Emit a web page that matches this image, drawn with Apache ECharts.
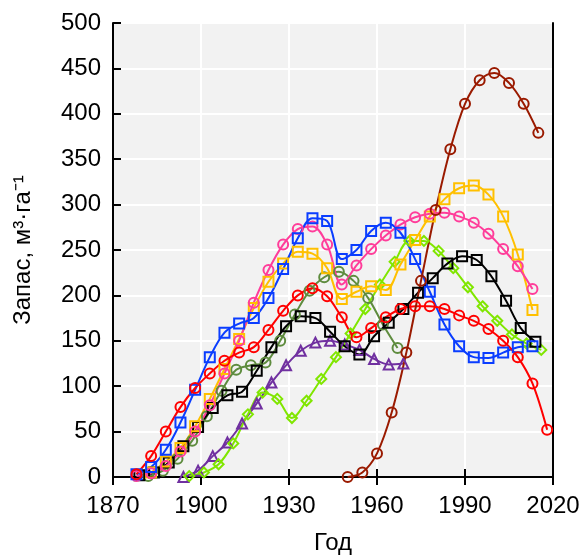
<!DOCTYPE html>
<html>
<head>
<meta charset="utf-8">
<script src="https://cdn.jsdelivr.net/npm/echarts@6/dist/echarts.min.js"></script>
<style>
  html, body { margin: 0; padding: 0; background: #fff; }
  #chart { width: 585px; height: 560px; }
</style>
</head>
<body>
<div id="chart"></div>
<script>
// years and stock values, one pair of arrays per series
var redYears = [1878, 1883, 1888, 1893, 1898, 1903, 1908, 1913, 1918, 1923, 1928, 1933, 1938, 1943, 1948, 1953, 1958, 1963, 1968, 1973, 1978, 1983, 1988, 1993, 1998, 2003, 2008, 2013, 2018];
var redVals = [3, 23, 50, 77, 98, 114, 128, 137, 143, 162, 183, 200, 208, 199, 176, 154, 164, 176, 185, 188, 188, 185, 178, 172, 163, 150, 132, 103, 52];

var blueYears = [1878, 1883, 1888, 1893, 1898, 1903, 1908, 1913, 1918, 1923, 1928, 1933, 1938, 1943, 1948, 1953, 1958, 1963, 1968, 1973, 1978, 1983, 1988, 1993, 1998, 2003, 2008, 2013];
var blueVals = [3, 11, 30, 60, 96, 132, 159, 169, 175, 197, 229, 263, 285, 282, 240, 250, 271, 280, 269, 240, 204, 168, 144, 132, 131, 137, 143, 144];

var pinkYears = [1878, 1883, 1888, 1893, 1898, 1903, 1908, 1913, 1918, 1923, 1928, 1933, 1938, 1943, 1948, 1953, 1958, 1963, 1968, 1973, 1978, 1983, 1988, 1993, 1998, 2003, 2008, 2013];
var pinkVals = [1, 4, 12, 28, 50, 79, 114, 150, 192, 228, 256, 273, 276, 256, 212, 233, 251, 266, 278, 286, 290, 291, 287, 280, 268, 251, 232, 207];

var orangeYears = [1883, 1888, 1893, 1898, 1903, 1908, 1913, 1918, 1923, 1928, 1933, 1938, 1943, 1948, 1953, 1958, 1963, 1968, 1973, 1978, 1983, 1988, 1993, 1998, 2003, 2008, 2013];
var orangeVals = [5, 17, 32, 56, 86, 119, 152, 186, 215, 235, 248, 246, 230, 196, 204, 210, 206, 234, 261, 287, 306, 318, 321, 311, 287, 245, 184];

var blackYears = [1879, 1884, 1889, 1894, 1899, 1904, 1909, 1914, 1919, 1924, 1929, 1934, 1939, 1944, 1949, 1954, 1959, 1964, 1969, 1974, 1979, 1984, 1989, 1994, 1999, 2004, 2009, 2014];
var blackVals = [2, 5, 16, 34, 55, 76, 90, 94, 117, 143, 166, 177, 175, 160, 144, 135, 155, 170, 185, 203, 219, 235, 243, 239, 221, 194, 164, 149];

var greenYears = [1882, 1887, 1892, 1897, 1902, 1907, 1912, 1917, 1922, 1927, 1932, 1937, 1942, 1947, 1952, 1957, 1962, 1967];
var greenVals = [1, 7, 20, 40, 67, 95, 118, 123, 126, 150, 179, 205, 220, 226, 216, 197, 168, 142];

var purpleYears = [1894, 1899, 1904, 1909, 1914, 1919, 1924, 1929, 1934, 1939, 1944, 1949, 1954, 1959, 1964, 1969];
var purpleVals = [0, 7, 23, 38, 59, 81, 104, 123, 139, 148, 150, 146, 140, 130, 124, 125];

var limeYears = [1896, 1901, 1906, 1911, 1916, 1921, 1926, 1931, 1936, 1941, 1946, 1951, 1956, 1961, 1966, 1971, 1976, 1981, 1986, 1991, 1996, 2001, 2006, 2011, 2016];
var limeVals = [1, 5, 14, 37, 69, 93, 86, 65, 84, 108, 132, 158, 185, 212, 237, 260, 260, 249, 230, 209, 188, 172, 157, 147, 140];

var brownYears = [1950, 1955, 1960, 1965, 1970, 1975, 1980, 1985, 1990, 1995, 2000, 2005, 2010, 2015];
var brownVals = [0, 5, 26, 71, 137, 216, 294, 361, 411, 437, 445, 434, 411, 379];

var xTicks = { min: 1870, max: 2020, step: 30 };
var yTicks = { min: 0, max: 500, step: 50 };

function pairs(xs, ys) {
    return xs.map(function (x, i) { return [x, ys[i]]; });
}

function makeSeries(xs, ys, color, symbol, size) {
    return {
        type: 'line',
        data: pairs(xs, ys),
        smooth: 0.35,
        symbol: symbol,
        symbolSize: size,
        showSymbol: true,
        lineStyle: { color: color, width: 2 },
        itemStyle: { color: 'rgba(0,0,0,0)', borderColor: color, borderWidth: 2 },
        emphasis: { disabled: true },
        z: 3
    };
}

var font = 'Arial, "Liberation Sans", sans-serif';

var option = {
    animation: false,
    grid: {
        left: 113, right: 32, top: 23, bottom: 82,
        show: true, backgroundColor: '#f2f2f2', borderWidth: 0
    },
    xAxis: [{
        type: 'value',
        min: xTicks.min, max: xTicks.max, interval: xTicks.step,
        name: 'Год',
        nameLocation: 'middle',
        nameGap: 54,
        nameTextStyle: { fontSize: 24, color: '#000', fontFamily: font },
        axisLine: { show: true, lineStyle: { color: '#000', width: 2 } },
        axisTick: { show: true, inside: false, length: 8, lineStyle: { color: '#000', width: 2 } },
        axisLabel: {
            fontSize: 24, color: '#000', fontFamily: font, margin: 17,
            formatter: function (v) { return String(v); }
        },
        splitLine: { show: true, lineStyle: { color: '#fff', width: 2 } }
    }, {
        // second copy only for the inside half of the ticks
        type: 'value', position: 'bottom',
        min: xTicks.min, max: xTicks.max, interval: xTicks.step,
        axisLine: { show: false },
        axisTick: { show: true, inside: true, length: 8, lineStyle: { color: '#000', width: 2 } },
        axisLabel: { show: false },
        splitLine: { show: false }
    }],
    yAxis: [{
        type: 'value',
        min: yTicks.min, max: yTicks.max, interval: yTicks.step,
        name: 'Запас, м³·га⁻¹',
        nameLocation: 'middle',
        nameGap: 78,
        nameTextStyle: { fontSize: 24, color: '#000', fontFamily: font },
        axisLine: { show: true, lineStyle: { color: '#000', width: 2 } },
        axisTick: { show: true, inside: true, length: 8, lineStyle: { color: '#000', width: 2 } },
        axisLabel: { fontSize: 24, color: '#000', fontFamily: font, margin: 12 },
        splitLine: { show: true, lineStyle: { color: '#fff', width: 2 } }
    }, {
        type: 'value', position: 'right',
        min: yTicks.min, max: yTicks.max, interval: yTicks.step,
        axisLine: { show: true, lineStyle: { color: '#000', width: 2 } },
        axisTick: { show: false },
        axisLabel: { show: false },
        splitLine: { show: false }
    }],
    series: [
        makeSeries(greenYears, greenVals, '#5e8c3e', 'circle', 10),
        makeSeries(purpleYears, purpleVals, '#7030a0', 'triangle', 10),
        makeSeries(limeYears, limeVals, '#80e600', 'diamond', 10),
        makeSeries(blackYears, blackVals, '#000000', 'rect', 10),
        makeSeries(orangeYears, orangeVals, '#ffc000', 'rect', 10),
        makeSeries(pinkYears, pinkVals, '#ff3d9a', 'circle', 10),
        makeSeries(blueYears, blueVals, '#0a3dff', 'rect', 10),
        makeSeries(redYears, redVals, '#ff0000', 'circle', 10),
        makeSeries(brownYears, brownVals, '#9a1a00', 'circle', 10)
    ]
};

echarts.init(document.getElementById('chart')).setOption(option);
</script>
</body>
</html>
